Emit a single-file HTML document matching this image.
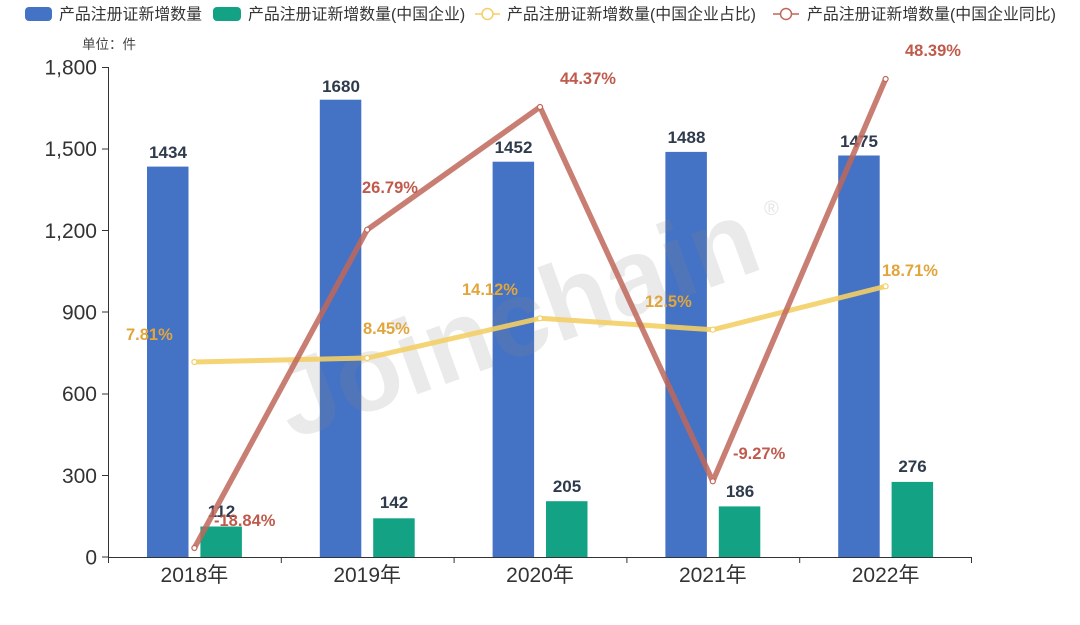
<!DOCTYPE html>
<html><head><meta charset="utf-8">
<style>
html,body{margin:0;padding:0;background:#fff;}
svg{display:block;}
text{font-family:"Liberation Sans","Noto Sans CJK SC",sans-serif;}
</style></head>
<body>
<svg width="1080" height="625" viewBox="0 0 1080 625" xmlns="http://www.w3.org/2000/svg">
<rect width="1080" height="625" fill="#fff"/>

<!-- Legend -->
<rect x="25" y="7" width="27" height="14" rx="4" fill="#4472c4"/>
<text x="59" y="19.5" font-size="15.9" fill="#333">产品注册证新增数量</text>
<rect x="213" y="7" width="28" height="14" rx="4" fill="#13a384"/>
<text x="248" y="19.5" font-size="15.9" fill="#333">产品注册证新增数量(中国企业)</text>
<line x1="475" y1="14" x2="500" y2="14" stroke="#f3cf66" stroke-width="1.5"/>
<circle cx="487.5" cy="14" r="5.5" fill="#fff" stroke="#f3cf66" stroke-width="1.5"/>
<text x="507" y="19.5" font-size="15.9" fill="#333">产品注册证新增数量(中国企业占比)</text>
<line x1="773" y1="14" x2="799" y2="14" stroke="#c0675a" stroke-width="1.5"/>
<circle cx="786" cy="14" r="5.5" fill="#fff" stroke="#c0675a" stroke-width="1.5"/>
<text x="807" y="19.5" font-size="15.9" fill="#333">产品注册证新增数量(中国企业同比)</text>

<text x="82" y="49" font-size="13.5" fill="#444">单位：件</text>

<!-- Y axis -->
<g font-size="21" fill="#333" text-anchor="end">
<text x="97" y="564.5">0</text>
<text x="97" y="482.8">300</text>
<text x="97" y="401.2">600</text>
<text x="97" y="319.5">900</text>
<text x="97" y="237.8">1,200</text>
<text x="97" y="156.2">1,500</text>
<text x="97" y="74.5">1,800</text>
</g>
<g stroke="#333" stroke-width="1">
<line x1="108.5" y1="67" x2="108.5" y2="557"/>
<line x1="102" y1="67.5" x2="108.5" y2="67.5"/>
<line x1="102" y1="149" x2="108.5" y2="149"/>
<line x1="102" y1="230.5" x2="108.5" y2="230.5"/>
<line x1="102" y1="312" x2="108.5" y2="312"/>
<line x1="102" y1="394" x2="108.5" y2="394"/>
<line x1="102" y1="475.5" x2="108.5" y2="475.5"/>
<line x1="102" y1="557" x2="108.5" y2="557"/>
</g>

<!-- Bars -->
<g fill="#4472c4">
<rect x="147" y="166.6" width="41.5" height="390.4"/>
<rect x="319.8" y="99.7" width="41.5" height="457.3"/>
<rect x="492.6" y="161.7" width="41.5" height="395.3"/>
<rect x="665.4" y="151.9" width="41.5" height="405.1"/>
<rect x="838.2" y="155.5" width="41.5" height="401.5"/>
</g>
<g fill="#13a384">
<rect x="200.4" y="526.5" width="41.5" height="30.5"/>
<rect x="373.2" y="518.3" width="41.5" height="38.7"/>
<rect x="546" y="501.2" width="41.5" height="55.8"/>
<rect x="718.8" y="506.4" width="41.5" height="50.6"/>
<rect x="891.6" y="481.9" width="41.5" height="75.1"/>
</g>

<!-- X axis -->
<g stroke="#333" stroke-width="1">
<line x1="108" y1="557.5" x2="972" y2="557.5"/>
<line x1="108.5" y1="557" x2="108.5" y2="563"/>
<line x1="281.3" y1="557" x2="281.3" y2="563"/>
<line x1="454.1" y1="557" x2="454.1" y2="563"/>
<line x1="626.9" y1="557" x2="626.9" y2="563"/>
<line x1="799.7" y1="557" x2="799.7" y2="563"/>
<line x1="971.5" y1="557" x2="971.5" y2="563"/>
</g>
<g font-size="21" fill="#333" text-anchor="middle">
<text x="194.4" y="582">2018年</text>
<text x="367.2" y="582">2019年</text>
<text x="540" y="582">2020年</text>
<text x="712.8" y="582">2021年</text>
<text x="885.6" y="582">2022年</text>
</g>

<!-- Bar labels -->
<g font-size="17" font-weight="bold" fill="#2f3b4c" text-anchor="middle">
<text x="168" y="158">1434</text>
<text x="341" y="92">1680</text>
<text x="513.5" y="153">1452</text>
<text x="686.5" y="143">1488</text>
<text x="859" y="147">1475</text>
<text x="221.5" y="517">112</text>
<text x="394" y="508">142</text>
<text x="567" y="492">205</text>
<text x="740" y="497">186</text>
<text x="912.5" y="472">276</text>
</g>

<!-- Watermark -->
<text transform="translate(292,440) rotate(-20)" font-size="108" font-weight="bold" fill="#8a8a8a" fill-opacity="0.18">Joinchain</text>
<text x="764" y="215" font-size="20" fill="#8a8a8a" fill-opacity="0.22">®</text>

<!-- Yellow line -->
<polyline points="194.4,362 367.2,358 540,318.3 712.8,329.7 885.6,286.3" fill="none" stroke="#f3cf66" stroke-opacity="0.9" stroke-width="5" stroke-linejoin="round"/>
<g fill="#fff" stroke="#f3cf66" stroke-width="1.2">
<circle cx="194.4" cy="362" r="2.5"/><circle cx="367.2" cy="358" r="2.5"/><circle cx="540" cy="318.3" r="2.5"/><circle cx="712.8" cy="329.7" r="2.5"/><circle cx="885.6" cy="286.3" r="2.5"/>
</g>

<!-- Red line -->
<polyline points="194.4,548 367.2,229.7 540,107 712.8,481.3 885.6,79" fill="none" stroke="#c0675a" stroke-opacity="0.85" stroke-width="5.5" stroke-linejoin="round"/>
<g fill="#fff" stroke="#c0675a" stroke-width="1.2">
<circle cx="194.4" cy="548" r="2.5"/><circle cx="367.2" cy="229.7" r="2.5"/><circle cx="540" cy="107" r="2.5"/><circle cx="712.8" cy="481.3" r="2.5"/><circle cx="885.6" cy="79" r="2.5"/>
</g>

<!-- Line labels -->
<g font-size="16.5" font-weight="bold" fill="#e2a53c">
<text x="126" y="340">7.81%</text>
<text x="363" y="334">8.45%</text>
<text x="462" y="295">14.12%</text>
<text x="645" y="307">12.5%</text>
<text x="882" y="276">18.71%</text>
</g>
<g font-size="16.5" font-weight="bold" fill="#bf5a4c">
<text x="214" y="526">-18.84%</text>
<text x="362" y="193">26.79%</text>
<text x="560" y="84">44.37%</text>
<text x="733" y="459">-9.27%</text>
<text x="905" y="56">48.39%</text>
</g>
</svg>
</body></html>
